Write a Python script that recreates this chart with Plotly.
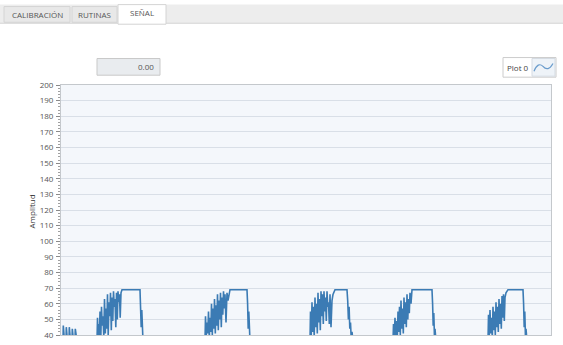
import plotly.graph_objects as go

W, H = 563, 345
ML, MR, MT, MB = 61, 12, 85, 5
PW, PH = W - ML - MR, H - MT - MB

# Tick values for the amplitude axis
y_ticks = list(range(40, 201, 10))

# Signal, sample positions and amplitude for each burst
start_t = [0, 2, 2.3, 3.5, 5, 5.3, 6.5, 8, 8.3, 9.5, 11, 11.3, 12.5, 14, 14.3, 16]
start_amp = [36, 36, 46, 36, 36, 45, 36, 36, 45, 36, 36, 44, 36, 36, 44, 36]

burst1_t = [34, 36, 36.5, 37, 37.8, 38.4, 39, 39.8, 40.5, 41.2, 42, 42.8, 43.5, 44.3, 45, 45.8,
            46.5, 47.2, 48, 48.8, 49.5, 50.3, 51, 51.8, 52.5, 53.3, 54, 54.8, 55.5, 56.3, 57,
            57.8, 58.5, 59.2, 60, 61, 79, 79.6, 80.2, 80.8, 81.4, 82, 84]
burst1_amp = [36, 36, 51, 39, 47, 40, 55, 38, 58, 46, 52, 39, 63, 41, 57, 44, 66, 40, 61, 52,
              67, 43, 64, 49, 68, 58, 63, 45, 67, 50, 68, 61, 66, 51, 67, 69, 69, 60, 45, 56,
              40, 36, 36]

burst2_t = [142, 144, 144.5, 145.2, 146, 146.8, 147.5, 148.3, 149, 149.8, 150.5, 151.3, 152,
            152.8, 153.5, 154.3, 155, 155.8, 156.5, 157.3, 158, 158.8, 159.5, 160.3, 161, 161.8,
            162.5, 163.3, 164, 165, 166, 167, 169, 186, 186.6, 187.2, 187.8, 188.4, 189, 191]
burst2_amp = [36, 36, 52, 39, 48, 41, 55, 38, 51, 42, 60, 40, 57, 44, 63, 41, 59, 46, 66, 43,
              62, 50, 67, 45, 64, 53, 68, 57, 66, 48, 67, 62, 69, 69, 60, 44, 55, 40, 36, 36]

burst3_t = [247, 249, 249.5, 250.2, 251, 251.7, 252.5, 253.2, 254, 254.8, 255.5, 256.3, 257,
            257.8, 258.5, 259.3, 260, 260.8, 261.5, 262.3, 263, 263.8, 264.5, 265.3, 266, 266.8,
            267.5, 268.3, 269, 270, 271, 272, 274, 286, 286.7, 287.4, 288.1, 288.8, 289.5,
            290.2, 291, 292, 294]
burst3_amp = [36, 36, 55, 39, 61, 42, 58, 38, 64, 45, 60, 41, 67, 48, 63, 43, 68, 52, 66, 47,
              68, 55, 64, 49, 68, 58, 61, 47, 66, 45, 62, 66, 69, 69, 62, 50, 58, 44, 48, 38,
              42, 36, 36]

burst4_t = [330, 332, 332.5, 333.2, 334, 334.8, 335.5, 336.3, 337, 337.8, 338.5, 339.3, 340,
            340.8, 341.5, 342.3, 343, 343.8, 344.5, 345.3, 346, 346.8, 347.5, 348.3, 349, 350,
            351, 371, 371.6, 372.2, 372.8, 373.4, 374, 375, 377]
burst4_amp = [36, 36, 47, 39, 51, 40, 49, 38, 55, 42, 58, 40, 62, 44, 57, 41, 64, 47, 61, 45,
              66, 50, 63, 54, 67, 60, 69, 69, 60, 46, 54, 40, 44, 36, 36]

burst5_t = [425, 427, 427.5, 428.2, 429, 429.8, 430.5, 431.3, 432, 432.8, 433.5, 434.3, 435,
            435.8, 436.5, 437.3, 438, 438.8, 439.5, 440.3, 441, 441.8, 442.5, 443.3, 444, 445,
            447, 462, 462.6, 463.2, 463.8, 464.4, 465, 466, 468]
burst5_amp = [36, 36, 53, 39, 56, 41, 51, 38, 58, 43, 55, 40, 61, 45, 58, 42, 63, 47, 60, 44,
              65, 51, 66, 49, 64, 67, 69, 69, 60, 45, 55, 40, 44, 36, 36]

gap_t = [470, 490]
gap_amp = [36, 36]

t = start_t + burst1_t + burst2_t + burst3_t + burst4_t + burst5_t + gap_t
amp = start_amp + burst1_amp + burst2_amp + burst3_amp + burst4_amp + burst5_amp + gap_amp

TABS = ["CALIBRACIÓN", "RUTINAS", "SEÑAL"]
INDICATOR = "0.00"
LEGEND = "Plot 0"
Y_TITLE = "Amplitud"


def px(x):
    return (x - ML) / PW


def py(y):
    return 1 - (y - MT) / PH


fig = go.Figure()
fig.add_trace(go.Scatter(
    x=t, y=amp, mode="lines",
    line=dict(color="#3b7bb4", width=1.6),
    hoverinfo="skip", showlegend=False,
))

FONT = "Open Sans, Noto Sans, sans-serif"
shapes = []
annotations = []

# Tab strip
shapes.append(dict(type="rect", xref="paper", yref="paper",
                   x0=px(0), x1=px(W), y0=py(22), y1=py(3),
                   fillcolor="#ededed", line=dict(width=0), layer="below"))
shapes.append(dict(type="line", xref="paper", yref="paper",
                   x0=px(0), x1=px(W), y0=py(22), y1=py(22),
                   line=dict(color="#d4d4d4", width=1)))
tab_edges = [(4, 70), (72, 117), (118, 166)]
for i, (name, (a, b)) in enumerate(zip(TABS, tab_edges)):
    selected = i == len(TABS) - 1
    shapes.append(dict(type="rect", xref="paper", yref="paper",
                       x0=px(a), x1=px(b), y0=py(23 if selected else 21), y1=py(3 if selected else 5),
                       fillcolor="#ffffff" if selected else "#e8e8e8",
                       line=dict(color="#d4d4d4", width=1)))
    annotations.append(dict(text=name, xref="paper", yref="paper",
                            x=px((a + b) / 2), y=py(13 if not selected else 11),
                            showarrow=False, xanchor="center", yanchor="middle",
                            font=dict(family=FONT, size=8, color="#555555")))

# Numeric indicator
shapes.append(dict(type="rect", xref="paper", yref="paper",
                   x0=px(97), x1=px(160), y0=py(75), y1=py(58),
                   fillcolor="#e9ecef", line=dict(color="#c9c9c9", width=1)))
annotations.append(dict(text=INDICATOR, xref="paper", yref="paper",
                        x=px(156), y=py(66.5), showarrow=False,
                        xanchor="right", yanchor="middle",
                        font=dict(family=FONT, size=8, color="#555555")))

# Plot legend box with its line glyph
shapes.append(dict(type="rect", xref="paper", yref="paper",
                   x0=px(503), x1=px(556), y0=py(77), y1=py(57),
                   fillcolor="#ffffff", line=dict(color="#cccccc", width=1)))
shapes.append(dict(type="rect", xref="paper", yref="paper",
                   x0=px(532), x1=px(555), y0=py(76), y1=py(58),
                   fillcolor="#eef3f8", line=dict(color="#d5dbe2", width=1)))
p = lambda x, y: f"{px(x)},{py(y)}"
shapes.append(dict(type="path", xref="paper", yref="paper",
                   path=f"M {p(534, 71)} Q {p(538, 61)} {p(543, 66)} Q {p(548, 72)} {p(553, 63)}",
                   line=dict(color="#6a9ccc", width=1.2)))
annotations.append(dict(text=LEGEND, xref="paper", yref="paper",
                        x=px(518), y=py(67), showarrow=False,
                        xanchor="center", yanchor="middle",
                        font=dict(family=FONT, size=8, color="#444444")))

# Y axis title
annotations.append(dict(text=Y_TITLE, xref="paper", yref="paper",
                        x=px(31), y=py(214), showarrow=False, textangle=-90,
                        xanchor="center", yanchor="middle",
                        font=dict(family=FONT, size=8, color="#333333")))

fig.update_layout(
    width=W, height=H,
    margin=dict(l=ML, r=MR, t=MT, b=MB, pad=0),
    paper_bgcolor="#ffffff",
    plot_bgcolor="#f4f7fb",
    shapes=shapes,
    annotations=annotations,
    showlegend=False,
    xaxis=dict(range=[0, 490], showticklabels=False, showgrid=False, zeroline=False,
               showline=True, linecolor="#c4c8cc", linewidth=1, mirror=True,
               ticks="", fixedrange=True),
    yaxis=dict(range=[40, 200], tickvals=y_ticks, ticktext=[str(v) for v in y_ticks],
               showgrid=True, gridcolor="#d9dfe7", gridwidth=1, zeroline=False,
               showline=True, linecolor="#c4c8cc", linewidth=1, mirror=True,
               ticks="outside", ticklen=4, tickcolor="#8a8a8a", ticklabelstandoff=1,
               tickfont=dict(family=FONT, size=8, color="#555555"),
               minor=dict(dtick=2, ticks="outside", ticklen=2, tickcolor="#a0a0a0", showgrid=False),
               fixedrange=True),
)

fig.write_html("out.html")
